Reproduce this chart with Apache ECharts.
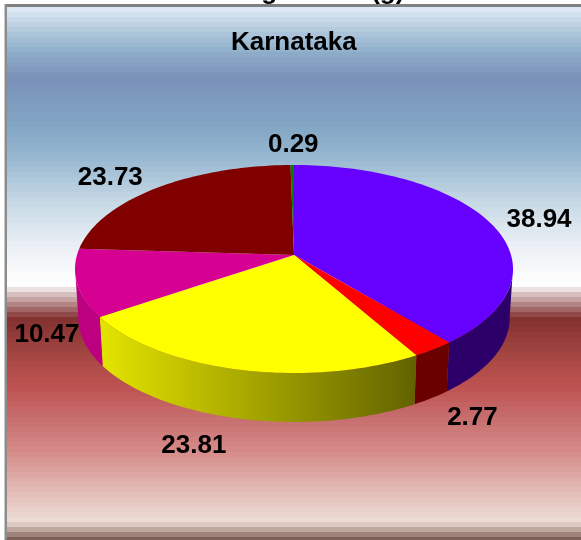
<!DOCTYPE html>
<html>
<head>
<meta charset="utf-8">
<style>html,body{margin:0;padding:0;background:#fff}#c{width:581px;height:540px}</style>
<script src="https://cdn.jsdelivr.net/npm/echarts@6/dist/echarts.min.js"></script>
</head>
<body>
<div id="c"></div>
<script>
// Data
var sliceNames = ['a', 'b', 'c', 'd', 'e', 'f'];
var sliceValues = [38.94, 2.77, 23.81, 10.47, 23.73, 0.29];
var chartTitle = 'Karnataka';
var clippedTitle = 'Average Mass (g)';

// Styles
var topColors = ['#6600ff', '#ff0000', '#ffff00', '#d60093', '#800000', '#008000'];
var sideColors = [
  ['#2c0068', '#2c0068'], ['#6a0000', '#6a0000'], ['#e4e400', '#626200'],
  ['#bc0080', '#bc0080'], ['#6a0000', '#6a0000'], ['#005000', '#005000']
];
var labelOffsets = [[50, -2], [39, 69], [-44, 76], [-30, 52], [-47, -10], [1, -20]];
var bgKeys = [
  [7, '#e0ecf6'], [30, '#b2c9dd'], [50, '#90b0cb'], [78, '#7a90b8'], [100, '#7d9bbe'], [130, '#84a8c6'],
  [160, '#9ab9d1'], [200, '#c5d8e5'], [250, '#eef2f6'], [286, '#ffffff'], [290, '#e6d8d8'], [318, '#823030'],
  [350, '#a04440'], [385, '#bd5250'], [420, '#c87070'], [450, '#d48a88'], [490, '#e4bbb6'], [520, '#ecdcd4'],
  [525, '#d8c4bc'], [540, '#785850']
];

// Pie geometry (projected disc)
var cx = 294, cy = 269, rx = 219, ry = 104, tilt = -0.135, depth = 49, shrink = 0.985;
var total = sliceValues.reduce(function (a, b) { return a + b; }, 0);

function edgePoint(deg) {
  var t = deg * Math.PI / 180, u = Math.sin(t), v = -Math.cos(t);
  var d = 1 + tilt * v;
  return [cx + rx * u * Math.sqrt(1 - tilt * tilt) / d, cy + ry * (v + tilt) / d];
}
function lower(p) { return [cx + (p[0] - cx) * shrink, p[1] + depth]; }
var apex = [cx, cy + ry * tilt];
var frontStart = 97.2, frontEnd = 262.8;

function hex(c) { return [1, 3, 5].map(function (i) { return parseInt(c.substr(i, 2), 16); }); }
function bgColor(y) {
  for (var i = 0; i < bgKeys.length - 1; i++) {
    var a = bgKeys[i], b = bgKeys[i + 1];
    if (y <= b[0]) {
      var f = Math.max(0, (y - a[0]) / (b[0] - a[0]));
      var ca = hex(a[1]), cb = hex(b[1]);
      return 'rgb(' + ca.map(function (n, k) { return Math.round(n + (cb[k] - n) * f); }).join(',') + ')';
    }
  }
  return bgKeys[bgKeys.length - 1][1];
}
var bands = [];
for (var y = 7; y < 540; y += 5) {
  bands.push({ type: 'rect', silent: true, shape: { x: 7, y: y, width: 574, height: 5 }, style: { fill: bgColor(y + 2) }, z: 1 });
}

var starts = [], acc = 0;
sliceValues.forEach(function (v) { starts.push(acc); acc += v; });

function renderSlice(params, api) {
  var i = params.dataIndex, val = api.value(0);
  var a0 = starts[i] / total * 360, a1 = (starts[i] + val) / total * 360;
  var top = [apex], k;
  var n = Math.max(2, Math.ceil((a1 - a0) / 1.5));
  for (k = 0; k <= n; k++) { top.push(edgePoint(a0 + (a1 - a0) * k / n)); }
  var children = [];
  var f0 = Math.max(a0, frontStart), f1 = Math.min(a1, frontEnd);
  if (f1 > f0) {
    var upper = [], m = Math.ceil((f1 - f0) / 1.5);
    for (k = 0; k <= m; k++) { upper.push(edgePoint(f0 + (f1 - f0) * k / m)); }
    var wall = upper.concat(upper.slice().reverse().map(lower));
    children.push({
      type: 'polygon', z2: 1, shape: { points: wall },
      style: {
        fill: { type: 'linear', x: 0, y: 0, x2: 1, y2: 0, colorStops: [
          { offset: 0, color: sideColors[i][0] }, { offset: 1, color: sideColors[i][1] }
        ] }
      }
    });
  }
  children.push({ type: 'polygon', z2: 2, shape: { points: top }, style: { fill: topColors[i] } });
  var mid = edgePoint((a0 + a1) / 2), off = labelOffsets[i];
  children.push({
    type: 'text', z2: 5, x: mid[0] + off[0], y: mid[1] + off[1],
    style: {
      text: val.toFixed(2), fill: '#000', align: 'center', verticalAlign: 'middle',
      font: 'bold 26px "Liberation Sans", Arial, sans-serif'
    }
  });
  return { type: 'group', children: children };
}

var chart = echarts.init(document.getElementById('c'), null, { renderer: 'canvas' });
chart.setOption({
  animation: false,
  backgroundColor: '#ffffff',
  title: {
    text: chartTitle, left: 226, top: 25, z: 10,
    textStyle: { fontFamily: '"Liberation Sans", Arial, sans-serif', fontWeight: 'bold', fontSize: 26, color: '#000' }
  },
  graphic: { elements: [
    { type: 'text', silent: true, x: 190, y: -21, z: 1, style: { text: clippedTitle, fill: '#000', font: 'bold 26px "Liberation Sans", Arial, sans-serif' } },
    { type: 'rect', silent: true, shape: { x: 4, y: 4, width: 577, height: 536 }, style: { fill: '#c8c8c8' }, z: 1 },
    { type: 'rect', silent: true, shape: { x: 5, y: 4, width: 576, height: 3 }, style: { fill: '#808080' }, z: 1 },
    { type: 'rect', silent: true, shape: { x: 5, y: 4, width: 2, height: 536 }, style: { fill: '#8c8c8c' }, z: 1 }
  ].concat(bands) },
  series: [{
    type: 'custom', coordinateSystem: 'none', z: 5, silent: true,
    renderItem: renderSlice,
    data: sliceValues.map(function (v, i) { return { name: sliceNames[i], value: [v] }; })
  }]
});
</script>
</body>
</html>
